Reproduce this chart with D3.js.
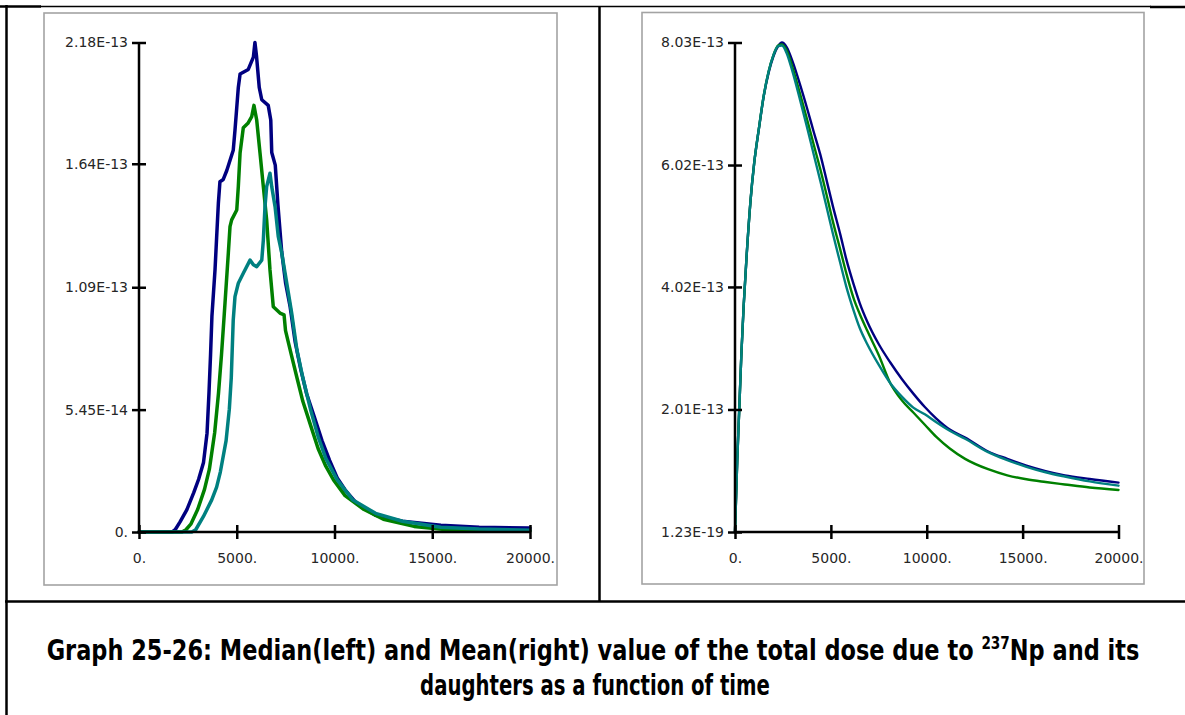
<!DOCTYPE html>
<html>
<head>
<meta charset="utf-8">
<script src="https://cdn.jsdelivr.net/npm/d3@7"></script>
<style>
  html, body { margin: 0; padding: 0; background: #fff; }
  svg { display: block; }
</style>
</head>
<body>
<svg id="chart" width="1185" height="715"></svg>
<script>
// ---- data (dose values in units of 1e-13, time in years) ----
const xTickValues = [0, 5000, 10000, 15000, 20000];
const xTickLabels = ["0.", "5000.", "10000.", "15000.", "20000."];

const medianTickValues = [0, 0.545, 1.09, 1.64, 2.18];
const medianTickLabels = ["0.", "5.45E-14", "1.09E-13", "1.64E-13", "2.18E-13"];

const meanTickValues = [0, 2.01, 4.02, 6.02, 8.03];
const meanTickLabels = ["1.23E-19", "2.01E-13", "4.02E-13", "6.02E-13", "8.03E-13"];

// median (left), [time, value]
const medianNavy = [[0,0],[1700,0],[1850,0.01],[2100,0.045],[2450,0.10],[2800,0.175],[3050,0.235],[3300,0.31],
  [3480,0.44],[3580,0.62],[3660,0.79],[3730,0.96],[3890,1.17],[3970,1.31],[4060,1.465],[4140,1.56],[4310,1.57],
  [4490,1.61],[4820,1.70],[4910,1.79],[5000,1.89],[5080,1.98],[5170,2.04],[5590,2.06],[5850,2.115],[5930,2.18],
  [6010,2.12],[6150,1.98],[6280,1.925],[6610,1.90],[6740,1.835],[6790,1.69],[6970,1.634],[7105,1.458],[7300,1.248],
  [7500,1.108],[7730,1.003],[7990,0.845],[8280,0.722],[8570,0.617],[8970,0.512],[9360,0.407],[9750,0.319],
  [10140,0.241],[10540,0.188],[11130,0.127],[12100,0.074],[13480,0.048],[15440,0.03],[17400,0.021],[20000,0.018]];
const medianGreen = [[0,0],[2200,0],[2400,0.01],[2650,0.035],[3000,0.10],[3350,0.19],[3600,0.28],[3870,0.442],
  [4065,0.617],[4220,0.79],[4360,0.968],[4400,1.02],[4570,1.243],[4655,1.36],[4740,1.39],[5000,1.434],[5080,1.538],
  [5170,1.688],[5335,1.80],[5570,1.82],[5765,1.85],[5880,1.90],[6020,1.835],[6190,1.688],[6360,1.538],[6530,1.39],
  [6700,1.167],[6870,1.003],[7210,0.975],[7420,0.967],[7495,0.897],[7790,0.79],[8080,0.687],[8380,0.582],
  [8770,0.477],[9160,0.372],[9555,0.293],[9950,0.232],[10540,0.162],[11510,0.10],[12500,0.057],[14070,0.025],
  [16030,0.008],[20000,0.005]];
const medianTeal = [[0,0],[2700,0],[2900,0.01],[3290,0.068],[3720,0.143],[3970,0.20],[4160,0.267],[4455,0.407],
  [4620,0.547],[4720,0.687],[4820,0.944],[4910,1.048],[5080,1.108],[5335,1.152],[5680,1.211],[5850,1.19],
  [6020,1.182],[6280,1.211],[6360,1.30],[6445,1.449],[6530,1.538],[6700,1.598],[6790,1.538],[6960,1.449],
  [7125,1.315],[7300,1.243],[7470,1.154],[7640,1.065],[7810,0.975],[8080,0.81],[8380,0.687],[8770,0.547],
  [9160,0.425],[9555,0.328],[10140,0.232],[10925,0.144],[12100,0.083],[13480,0.048],[15440,0.021],[17400,0.013],
  [20000,0.008]];

// mean (right), common time grid
const meanTime = [0, 60, 120, 220, 330, 450, 600, 800, 1000, 1250, 1500, 1750, 2000, 2250, 2450, 2700, 3000,
  3400, 3750, 4100, 4450, 4800, 5100, 5500, 5800, 6200, 6500, 6900, 7500, 8100, 8700, 9300, 9900, 10500, 11200,
  12000, 13200, 14200, 15200, 16200, 17200, 18500, 20000];
const meanNavy = [0, 0.6, 1.2, 2.0, 2.9, 3.7, 4.5, 5.4, 6.05, 6.62, 7.15, 7.53, 7.80, 7.97, 8.03, 7.95, 7.72,
  7.33, 6.96, 6.57, 6.19, 5.74, 5.35, 4.87, 4.48, 4.05, 3.76, 3.45, 3.08, 2.78, 2.51, 2.27, 2.05, 1.86, 1.68,
  1.55, 1.32, 1.20, 1.09, 1.00, 0.93, 0.87, 0.81];
const meanGreen = [0, 0.6, 1.2, 2.0, 2.9, 3.7, 4.5, 5.4, 6.05, 6.63, 7.16, 7.55, 7.82, 7.98, 8.00, 7.90, 7.62,
  7.18, 6.78, 6.36, 5.95, 5.50, 5.10, 4.62, 4.25, 3.82, 3.58, 3.30, 2.90, 2.44, 2.16, 1.96, 1.76, 1.56, 1.37,
  1.20, 1.03, 0.93, 0.865, 0.82, 0.78, 0.73, 0.69];
const meanTeal = [0, 0.6, 1.2, 2.0, 2.9, 3.7, 4.5, 5.4, 6.05, 6.63, 7.16, 7.55, 7.82, 7.97, 7.98, 7.85, 7.55,
  7.08, 6.65, 6.20, 5.76, 5.30, 4.90, 4.40, 4.03, 3.62, 3.35, 3.08, 2.74, 2.44, 2.22, 2.04, 1.93, 1.80, 1.66,
  1.53, 1.31, 1.18, 1.07, 0.98, 0.91, 0.83, 0.76];

const colors = ["#000080", "#008000", "#008080"];

const svg = d3.select("#chart");

/** table lines **/
const border = svg.append("g").attr("stroke", "#000").attr("fill", "none");
border.append("line").attr("x1", 0).attr("x2", 41).attr("y1", 6.5).attr("y2", 6.5).attr("stroke-width", 2.5);
border.append("line").attr("x1", 40).attr("x2", 1151).attr("y1", 6.5).attr("y2", 6.5).attr("stroke-width", 1.5);
border.append("line").attr("x1", 1150).attr("x2", 1185).attr("y1", 7).attr("y2", 7).attr("stroke-width", 2.5);
border.append("line").attr("x1", 6.5).attr("x2", 6.5).attr("y1", 5).attr("y2", 715).attr("stroke-width", 2.5);
border.append("line").attr("x1", 599.5).attr("x2", 599.5).attr("y1", 6).attr("y2", 602).attr("stroke-width", 2.5);
border.append("line").attr("x1", 5).attr("x2", 1185).attr("y1", 601.5).attr("y2", 601.5).attr("stroke-width", 2.5);

/** panels **/
function drawPanel(cfg) {
  const x = d3.scaleLinear().domain([0, 20000]).range([cfg.x0, cfg.x1]);
  const y = d3.scaleLinear().domain([0, cfg.yMax]).range([532, 42.5]);

  svg.append("rect")
    .attr("x", cfg.frame[0]).attr("y", cfg.frame[1])
    .attr("width", cfg.frame[2] - cfg.frame[0]).attr("height", cfg.frame[3] - cfg.frame[1])
    .attr("fill", "none").attr("stroke", "#a3a3a3").attr("stroke-width", 1.6);

  const line = d3.line().x((d) => x(d[0])).y((d) => y(d[1])).curve(cfg.curve);
  const plot = svg.append("g").attr("fill", "none").attr("stroke-linejoin", "round").attr("stroke-linecap", "round");
  cfg.series.forEach((s, i) => {
    plot.append("path").datum(s).attr("d", line)
      .attr("stroke", colors[i]).attr("stroke-width", cfg.lineWidth);
  });

  const yAxis = svg.append("g")
    .attr("transform", `translate(${cfg.x0},0)`)
    .call(d3.axisLeft(y).tickValues(cfg.yTicks).tickFormat((d, i) => cfg.yLabels[i]).tickSize(7));
  yAxis.select(".domain").remove();
  yAxis.selectAll(".tick line").attr("x1", -7).attr("x2", 7).attr("stroke", "#000").attr("stroke-width", 2.5);

  const xAxis = svg.append("g")
    .attr("transform", "translate(0,532)")
    .call(d3.axisBottom(x).tickValues(xTickValues).tickFormat((d, i) => xTickLabels[i]).tickSize(7));
  xAxis.select(".domain").remove();
  xAxis.selectAll(".tick line").attr("y1", -7).attr("y2", 7).attr("stroke", "#000").attr("stroke-width", 2.5);

  svg.append("line").attr("x1", cfg.x0).attr("x2", cfg.x0).attr("y1", 42.5).attr("y2", 533)
    .attr("stroke", "#000").attr("stroke-width", 2.5);
  svg.append("line").attr("x1", cfg.x0 - 1).attr("x2", cfg.x1 + 1).attr("y1", 532).attr("y2", 532)
    .attr("stroke", "#000").attr("stroke-width", 2.5);

  [yAxis, xAxis].forEach((g) => g.selectAll(".tick text")
    .style("font-family", "'DejaVu Sans', sans-serif")
    .style("font-size", "14px")
    .attr("fill", "#262626"));
  yAxis.selectAll(".tick text").attr("x", -11);
  xAxis.selectAll(".tick text").attr("y", 31).attr("dy", 0);
}

drawPanel({
  x0: 139, x1: 530, yMax: 2.18, frame: [44, 13, 557, 585],
  yTicks: medianTickValues, yLabels: medianTickLabels,
  series: [medianNavy, medianGreen, medianTeal],
  curve: d3.curveLinear, lineWidth: 3.5,
});

drawPanel({
  x0: 735, x1: 1118.5, yMax: 8.03, frame: [642, 12.5, 1144, 584],
  yTicks: meanTickValues, yLabels: meanTickLabels,
  series: [meanNavy, meanGreen, meanTeal].map((vals) => vals.map((v, i) => [meanTime[i], v])),
  curve: d3.curveMonotoneX, lineWidth: 2.4,
});

/** caption **/
const cap = svg.append("g")
  .style("font-family", "'Liberation Sans Narrow', 'DejaVu Sans Condensed', sans-serif")
  .style("font-weight", "bold").style("font-size", "28px").attr("fill", "#000");
const l1 = cap.append("text").attr("text-anchor", "middle");
l1.append("tspan").text("Graph 25-26: Median(left) and Mean(right) value of the total dose due to ");
l1.append("tspan").style("font-size", "17px").attr("dy", -11).text("237");
l1.append("tspan").attr("dy", 11).text("Np and its");
const l2 = cap.append("text").attr("text-anchor", "middle").text("daughters as a function of time");

const k1 = 1093 / l1.node().getComputedTextLength();
const k2 = 350 / l2.node().getComputedTextLength();
l1.attr("transform", `translate(593,660) scale(${k1},1)`);
l2.attr("transform", `translate(595,695) scale(${k2},1)`);
</script>
</body>
</html>
